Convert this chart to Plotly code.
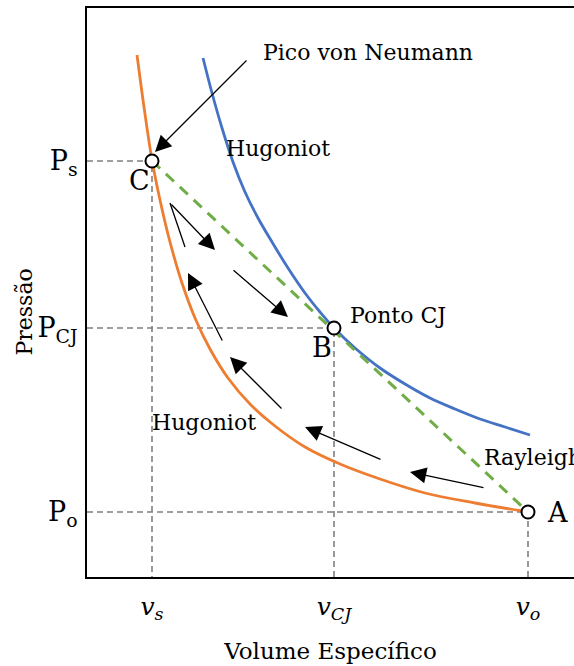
import plotly.graph_objects as go

# ---- data (arbitrary units) ----
v_s, v_cj, v_o = 0.65, 2.47, 4.41
P_s, P_cj, P_o = 4.16, 2.49, 0.65

# orange Hugoniot
hug1_v = [0.50, 0.57, 0.65, 0.73, 0.83, 0.95, 1.08, 1.23, 1.41, 1.63, 1.88, 2.18, 2.53, 2.93, 3.38, 3.88, 4.35]
hug1_p = [5.22, 4.70, 4.17, 3.77, 3.35, 2.94, 2.59, 2.28, 1.99, 1.73, 1.51, 1.30, 1.13, 0.98, 0.84, 0.74, 0.66]

# blue Hugoniot
hug2_v = [1.16, 1.25, 1.35, 1.46, 1.58, 1.71, 1.85, 2.01, 2.18, 2.33, 2.47, 2.68, 2.93, 3.18, 3.43, 3.68, 3.93, 4.18, 4.43]
hug2_p = [5.19, 4.84, 4.49, 4.15, 3.85, 3.59, 3.35, 3.09, 2.84, 2.65, 2.49, 2.29, 2.09, 1.93, 1.79, 1.68, 1.58, 1.50, 1.42]

# Rayleigh line (C -> A)
ray_v = [v_s, v_o]
ray_p = [P_s, P_o]

# state points
pt_v = [v_s, v_cj, v_o]
pt_p = [P_s, P_cj, P_o]

x_ticks = [v_s, v_cj, v_o]
x_labels = ["<i>v<sub>s</sub></i>", "<i>v<sub>CJ</sub></i>", "<i>v<sub>o</sub></i>"]
y_ticks = [P_s, P_cj, P_o]
y_labels = ["P<sub>s</sub>", "P<sub>CJ</sub>", "P<sub>o</sub>"]

# process arrows: (tail_v, tail_p, head_v, head_p)
arrows = [
    (0.83, 3.74, 1.28, 3.27),
    (1.45, 3.08, 2.01, 2.60),
    (1.36, 2.35, 1.01, 3.04),
    (1.96, 1.67, 1.43, 2.20),
    (2.95, 1.17, 2.18, 1.50),
    (3.98, 0.89, 3.23, 1.05),
]
vline = (0.83, 3.74, 0.98, 3.30)
pico = (1.61, 5.18, 0.68, 4.25)

FONT = "DejaVu Serif"
GREY = "#808080"
ORANGE = "#ED7D31"
BLUE = "#4472C4"
GREEN = "#70AD47"

fig = go.Figure()

# guide dashed lines
for v, p in zip(pt_v, pt_p):
    fig.add_trace(go.Scatter(x=[0, v, v], y=[p, p, 0], mode="lines",
                             line=dict(color=GREY, width=1.6, dash="6px,4px"),
                             hoverinfo="skip", showlegend=False))

fig.add_trace(go.Scatter(x=hug1_v, y=hug1_p, mode="lines",
                         line=dict(color=ORANGE, width=2.8, shape="spline", smoothing=1.0),
                         showlegend=False))
fig.add_trace(go.Scatter(x=hug2_v, y=hug2_p, mode="lines",
                         line=dict(color=BLUE, width=2.8, shape="spline", smoothing=1.0),
                         showlegend=False))
fig.add_trace(go.Scatter(x=ray_v, y=ray_p, mode="lines",
                         line=dict(color=GREEN, width=3, dash="11px,8px"),
                         showlegend=False))
fig.add_trace(go.Scatter(x=pt_v, y=pt_p, mode="markers",
                         marker=dict(size=13, color="white", line=dict(color="black", width=2)),
                         showlegend=False))

ann = []
for tv, tp, hv, hp in arrows + [pico]:
    ann.append(dict(x=hv, y=hp, ax=tv, ay=tp, xref="x", yref="y", axref="x", ayref="y",
                    text="", showarrow=True, arrowhead=2, arrowsize=2.5, arrowwidth=1.3,
                    arrowcolor="black", standoff=0))

def label(text, x, y, size, xanchor="left"):
    ann.append(dict(x=x, y=y, xref="x", yref="y", text=text, showarrow=False,
                    xanchor=xanchor, yanchor="middle", font=dict(family=FONT, size=size, color="black")))

label("Pico von Neumann", 1.74, 5.25, 22)
label("Hugoniot", 1.37, 4.29, 22)
label("Hugoniot", 0.63, 1.55, 22)
label("Ponto CJ", 2.61, 2.62, 22)
label("Rayleigh", 3.95, 1.20, 22)
label("C", 0.40, 3.97, 27)
label("B", 2.23, 2.30, 27)
label("A", 4.58, 0.65, 27)

# y-axis title
ann.append(dict(x=-0.128, y=0.466, xref="paper", yref="paper", text="Pressão", textangle=-90,
                showarrow=False, xanchor="center", yanchor="middle",
                font=dict(family=FONT, size=22, color="black")))

fig.update_layout(
    annotations=ann,
    shapes=[dict(type="line", xref="x", yref="y", x0=vline[0], y0=vline[1], x1=vline[2], y1=vline[3],
                 line=dict(color="black", width=1.3))],
    width=574, height=666,
    margin=dict(l=87, r=0, t=8, b=89),
    paper_bgcolor="white", plot_bgcolor="white",
    xaxis=dict(range=[0, 4.87], showgrid=False, zeroline=False, showline=True, linecolor="black",
               linewidth=2, mirror=True, ticks="", tickvals=x_ticks, ticktext=x_labels,
               tickfont=dict(family=FONT, size=25, color="black"), ticklabelstandoff=6,
               title=dict(text="Volume Específico", font=dict(family=FONT, size=23, color="black"), standoff=20)),
    yaxis=dict(range=[0, 5.69], showgrid=False, zeroline=False, showline=True, linecolor="black",
               linewidth=2, ticks="", tickvals=y_ticks, ticktext=y_labels,
               tickfont=dict(family=FONT, size=27, color="black"), ticklabelstandoff=2),
)

fig.write_html("out.html")
